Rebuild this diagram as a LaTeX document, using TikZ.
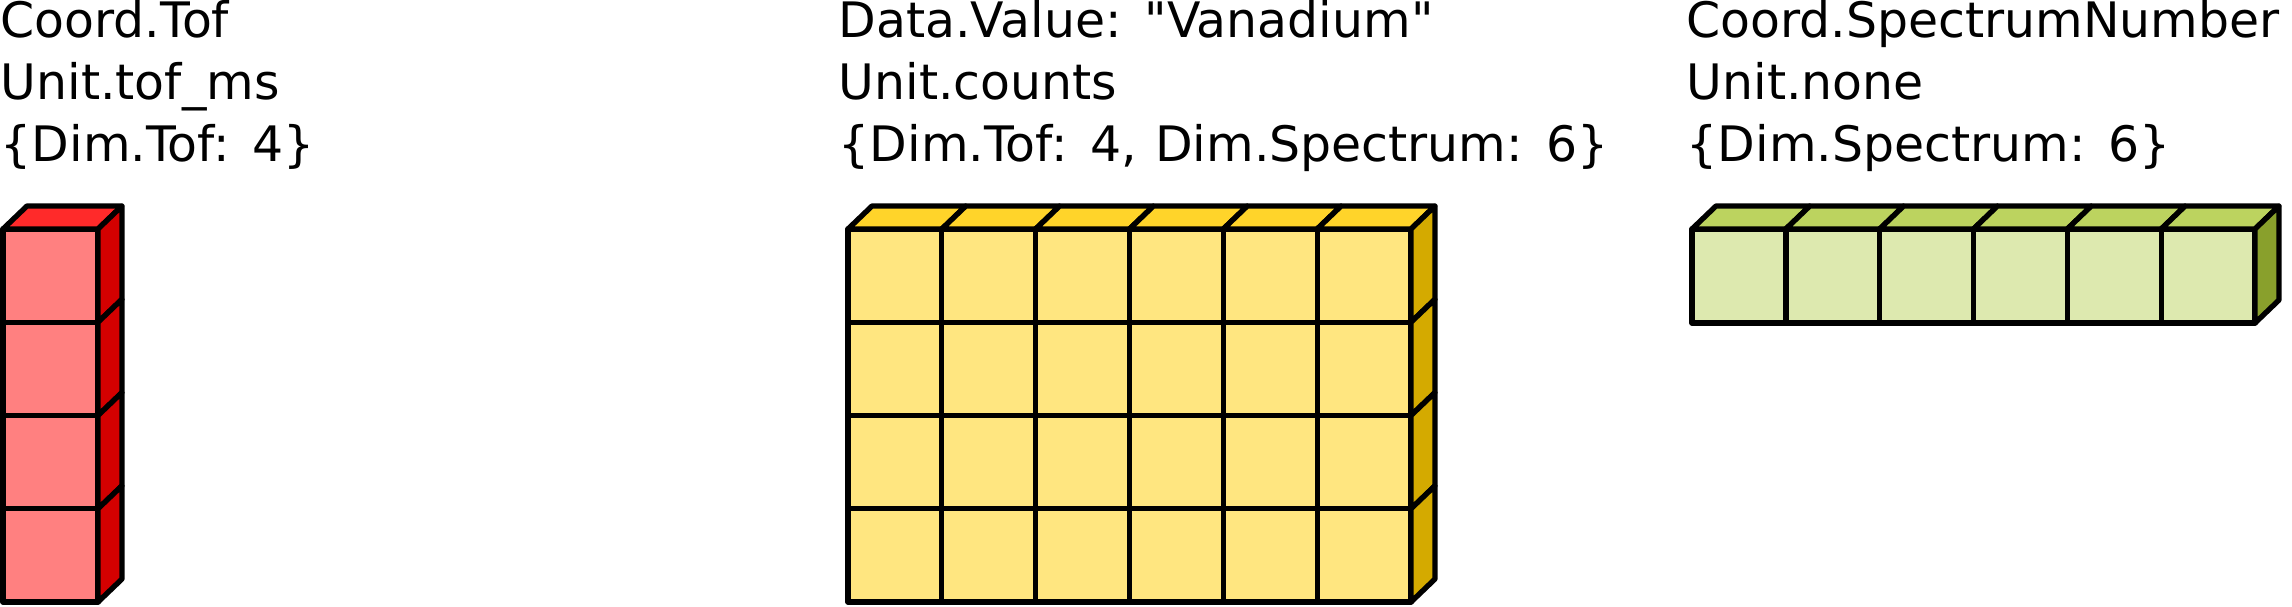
\documentclass[tikz,border=0pt]{standalone}
\usepackage{fontspec}
\setmainfont{DejaVu Sans}
\definecolor{rfront}{HTML}{FF8080}
\definecolor{rtop}{HTML}{FF2A2A}
\definecolor{rside}{HTML}{D40000}
\definecolor{yfront}{HTML}{FFE680}
\definecolor{ytop}{HTML}{FFD42A}
\definecolor{yside}{HTML}{D4AA00}
\definecolor{gfront}{HTML}{DDE9AF}
\definecolor{gtop}{HTML}{BCD35F}
\definecolor{gside}{HTML}{89A02C}
\newcommand{\lblfont}{\fontsize{13.9pt}{17.64pt}\selectfont\spaceskip=5.1pt\relax}
\tikzset{
  cell/.style={draw=black,line width=0.053cm,line join=round},
  lbl/.style={anchor=base west,inner sep=0pt,font=\lblfont}
}
% #1 x0, #2 y0, #3 w, #4 h, #5 ncol, #6 nrow, #7 dx, #8 dy, #9 colour prefix
\newcommand{\drawblock}[9]{%
  \foreach \i in {1,...,#5}{
    \foreach \j in {1,...,#6}{
      \path[cell,fill=#9front] ({#1+(\i-1)*#3},{#2+(\j-1)*#4}) rectangle ++(#3,#4);
    }
    \path[cell,fill=#9top] ({#1+(\i-1)*#3},#2) -- ++(#7,-#8) -- ++(#3,0) -- ++(-#7,#8) -- cycle;
  }
  \foreach \j in {1,...,#6}{
    \path[cell,fill=#9side] ({#1+#5*#3},{#2+(\j-1)*#4}) -- ++(#7,-#8) -- ++(0,#4) -- ++(-#7,#8) -- cycle;
  }
}
\begin{document}
\begin{tikzpicture}[x=0.01cm,y=-0.01cm]
\useasboundingbox (0,0) rectangle (2292,607);
% labels
\node[lbl] (a1) at (0,38) {Coord.Tof};
\node[lbl] (a2) at (0,100) {Unit.tof\_ms};
\node[lbl] (a3) at (0,162) {\{Dim.Tof: 4\}};
\node[lbl] (b1) at (838,38) {Data.Value: \textquotedbl Vanadium\textquotedbl};
\node[lbl] (b2) at (838,100) {Unit.counts};
\node[lbl] (b3) at (838,162) {\{Dim.Tof: 4, Dim.Spectrum: 6\}};
\node[lbl] (c1) at (1686,38) {Coord.SpectrumNumber};
\node[lbl] (c2) at (1686,100) {Unit.none};
\node[lbl] (c3) at (1686,162) {\{Dim.Spectrum: 6\}};
% blocks
\drawblock{3}{229}{95}{93.25}{1}{4}{24}{23}{r}
\drawblock{848}{229}{93.83}{93.25}{6}{4}{24}{23}{y}
\drawblock{1692}{229}{93.83}{94}{6}{1}{24}{23}{g}
\end{tikzpicture}
\end{document}
